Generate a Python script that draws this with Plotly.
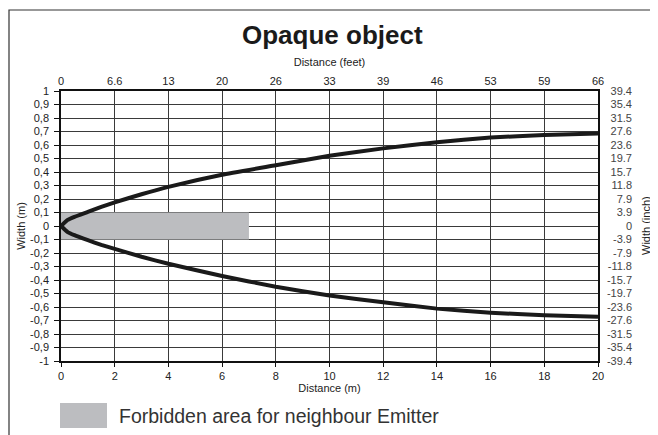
import plotly.graph_objects as go

# ---- data ----
distance_m = [0, 0.25, 0.5, 1, 1.5, 2, 3, 4, 6, 8, 10, 12, 14, 16, 18, 20]
upper_width = [0, 0.045, 0.068, 0.105, 0.142, 0.175, 0.235, 0.29, 0.38, 0.45, 0.52, 0.575, 0.62, 0.655, 0.675, 0.685]
lower_width = [0, -0.045, -0.068, -0.105, -0.14, -0.17, -0.228, -0.28, -0.37, -0.45, -0.515, -0.565, -0.612, -0.642, -0.662, -0.673]

forbidden_x = [0, 7]
forbidden_y = [-0.1, 0.1]

x_ticks_m = [0, 2, 4, 6, 8, 10, 12, 14, 16, 18, 20]
x_ticks_feet = ["0", "6.6", "13", "20", "26", "33", "39", "46", "53", "59", "66"]
y_ticks_m = [1, 0.9, 0.8, 0.7, 0.6, 0.5, 0.4, 0.3, 0.2, 0.1, 0, -0.1, -0.2, -0.3, -0.4,
             -0.5, -0.6, -0.7, -0.8, -0.9, -1]
y_labels_m = ["1", "0,9", "0,8", "0,7", "0,6", "0,5", "0,4", "0,3", "0,2", "0,1", "0",
              "-0,1", "-0,2", "-0,3", "-0,4", "-0,5", "-0,6", "-0,7", "-0,8", "-0,9", "-1"]
y_labels_inch = ["39.4", "35.4", "31.5", "27.6", "23.6", "19.7", "15.7", "11.8", "7.9", "3.9", "0",
                 "-3.9", "-7.9", "-11.8", "-15.7", "-19.7", "-23.6", "-27.6", "-31.5", "-35.4", "-39.4"]

title_text = "Opaque object"
legend_text = "Forbidden area for neighbour Emitter"

# ---- layout geometry (figure pixels; page adds an 8px body margin) ----
W, H = 650, 427
PLOT_L, PLOT_R, PLOT_T, PLOT_B = 53, 590, 83, 353
PAD = 10  # extra paper above/below so edge labels of right axis are shown
L = PLOT_L
R = W - 627
T = PLOT_T - PAD
B = H - (PLOT_B + PAD)
PW, PH = W - L - R, H - T - B
UNIT = (PLOT_B - PLOT_T) / 2.0  # pixels per metre of width


def px(x):
    return (x - L) / PW


def py(y):
    return (H - B - y) / PH


FONT = "Liberation Sans, Arial, Helvetica, sans-serif"
GRID = "#3a3a3a"
GRAY = "#bcbdc0"
INK = "#222222"

fig = go.Figure()

fig.add_trace(go.Scatter(
    x=[forbidden_x[0], forbidden_x[1], forbidden_x[1], forbidden_x[0], forbidden_x[0]],
    y=[forbidden_y[0], forbidden_y[0], forbidden_y[1], forbidden_y[1], forbidden_y[0]],
    fill="toself", fillcolor=GRAY, line=dict(width=0), mode="lines",
    hoverinfo="skip", showlegend=False,
))

for yy in (upper_width, lower_width):
    fig.add_trace(go.Scatter(
        x=distance_m, y=yy, mode="lines",
        line=dict(color="#1a1a1a", width=4, shape="spline", smoothing=0.4),
        showlegend=False,
    ))

fig.add_trace(go.Scatter(x=[0, 20], y=[0, 0], xaxis="x2", yaxis="y", mode="lines",
                         line=dict(width=0), hoverinfo="skip", showlegend=False))
fig.add_trace(go.Scatter(x=[0, 1], y=[0, 0], xaxis="x3", yaxis="y2", mode="lines",
                         line=dict(width=0), hoverinfo="skip", showlegend=False))

xdom = [0, px(PLOT_R)]
ydom = [py(PLOT_B), py(PLOT_T)]
ext = PAD / UNIT

fig.update_layout(
    width=W, height=H,
    margin=dict(l=L, r=R, t=T, b=B, autoexpand=False),
    paper_bgcolor="white", plot_bgcolor="rgba(0,0,0,0)",
    font=dict(family=FONT, size=11, color=INK),
    showlegend=False,
    xaxis=dict(
        domain=xdom, range=[0, 20], tickvals=x_ticks_m, ticktext=[str(v) for v in x_ticks_m],
        showgrid=True, gridcolor=GRID, gridwidth=1, zeroline=False,
        showline=True, linecolor="#111", linewidth=1.5, mirror=True,
        ticks="outside", ticklen=4, tickcolor="#111",
        title=dict(text="Distance (m)", font=dict(size=11), standoff=3),
    ),
    xaxis2=dict(
        domain=xdom, range=[0, 20], overlaying="x", side="top", anchor="y",
        tickvals=x_ticks_m, ticktext=x_ticks_feet, showgrid=False, zeroline=False,
        ticks="", showline=False, ticklabelstandoff=3,
        title=dict(text="Distance (feet)", font=dict(size=11), standoff=5),
    ),
    xaxis3=dict(domain=[0, 1], range=[0, 1], visible=False, anchor="y2"),
    yaxis=dict(
        domain=ydom, range=[-1, 1], tickvals=y_ticks_m, ticktext=y_labels_m,
        showgrid=True, gridcolor=GRID, gridwidth=1, zeroline=False,
        showline=True, linecolor="#111", linewidth=1.5, mirror=True,
        ticks="outside", ticklen=5, tickcolor="#111", ticklabelstandoff=3,
        title=dict(text="Width (m)", font=dict(size=11), standoff=2),
    ),
    yaxis2=dict(
        domain=[0, 1], range=[-1 - ext, 1 + ext], anchor="x3", side="right",
        tickvals=y_ticks_m, ticktext=y_labels_inch, ticklabelposition="inside",
        showgrid=False, zeroline=False, showline=False, ticks="",
    ),
    shapes=[
        dict(type="rect", xref="paper", yref="paper",
             x0=px(1), x1=px(648), y0=py(440), y1=py(2),
             line=dict(color="#333", width=1.2), fillcolor="rgba(0,0,0,0)", layer="below"),
        dict(type="rect", xref="paper", yref="paper",
             x0=px(52), x1=px(99), y0=py(420), y1=py(395),
             line=dict(width=0), fillcolor=GRAY),
    ],
    annotations=[
        dict(text="<b>" + title_text + "</b>", xref="paper", yref="paper",
             x=px(324.5), y=py(27), xanchor="center", yanchor="middle",
             showarrow=False, font=dict(size=26, color="#1a1a1a")),
        dict(text="Width (inch)", xref="paper", yref="paper",
             x=px(638), y=py(218), xanchor="center", yanchor="middle", textangle=-90,
             showarrow=False, font=dict(size=11, color=INK)),
        dict(text=legend_text, xref="paper", yref="paper",
             x=px(109), y=py(407.5), xanchor="left", yanchor="middle",
             showarrow=False, font=dict(size=19.5, color="#333")),
    ],
)

fig.write_html("out.html")
